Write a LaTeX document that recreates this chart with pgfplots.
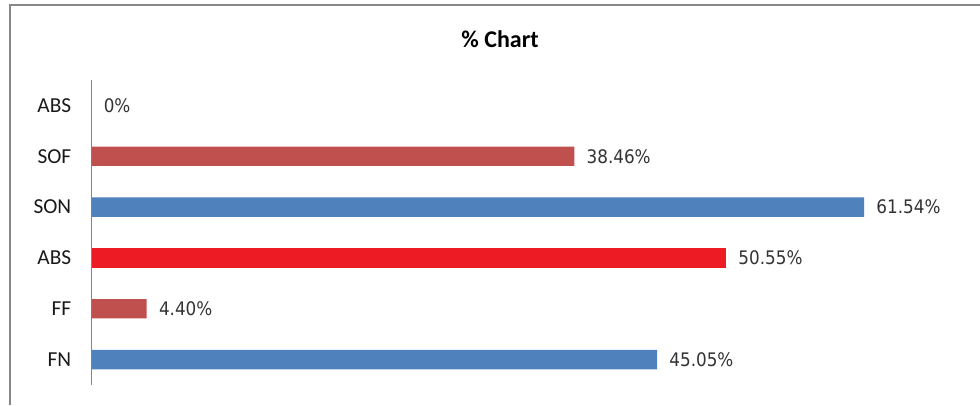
\documentclass[border=0pt]{standalone}
\usepackage{pgfplots}
\pgfplotsset{compat=1.18}
\usepackage{fontspec}
\setmainfont{Carlito}
\newfontfamily\lblfont{DejaVu Sans Condensed}
\definecolor{cblue}{HTML}{4F81BD}
\definecolor{cbrown}{HTML}{C0504D}
\definecolor{cred}{HTML}{ED1C24}
\definecolor{framegray}{HTML}{878787}
\definecolor{axisgray}{HTML}{868686}
\definecolor{lbltext}{HTML}{333333}
\begin{document}
\begin{tikzpicture}
\path[use as bounding box] (0,0) rectangle (735pt,303.75pt);
\draw[framegray, line width=1.5pt] (7.5pt,0) -- (7.5pt,300pt) -- (736pt,300pt);
\node[font=\fontsize{18}{22}\selectfont\bfseries, text=black] at (375pt,274.5pt) {\% Chart};
\begin{axis}[
  at={(68.625pt,15pt)}, anchor=south west, scale only axis,
  width=659.2pt, height=228.75pt,
  xmin=0, xmax=70, ymin=-0.5, ymax=5.5,
  axis x line=none, axis y line*=left,
  y axis line style={draw=axisgray, line width=0.75pt},
  ytick={0,1,2,3,4,5}, yticklabels={FN,FF,ABS,SON,SOF,ABS},
  major tick length=0pt,
  yticklabel style={font=\fontsize{16}{19}\selectfont, text=black!90, inner sep=0pt, xshift=-15pt},
  xbar, bar width=14.6pt, bar shift=0pt,
  nodes near coords, point meta=explicit symbolic,
  every node near coord/.append style={font=\lblfont\fontsize{14}{17}\selectfont, text=lbltext, anchor=west, inner sep=0pt, xshift=9pt},
]
\addplot[fill=cblue, draw=none] coordinates {(45.05,0) [45.05\%] (61.54,3) [61.54\%]};
\addplot[fill=cbrown, draw=none] coordinates {(4.40,1) [4.40\%] (38.46,4) [38.46\%]};
\addplot[fill=cred, draw=none] coordinates {(50.55,2) [50.55\%]};
\addplot[draw=none, fill=none] coordinates {(0,5) [0\%]};
\end{axis}
\end{tikzpicture}
\end{document}
